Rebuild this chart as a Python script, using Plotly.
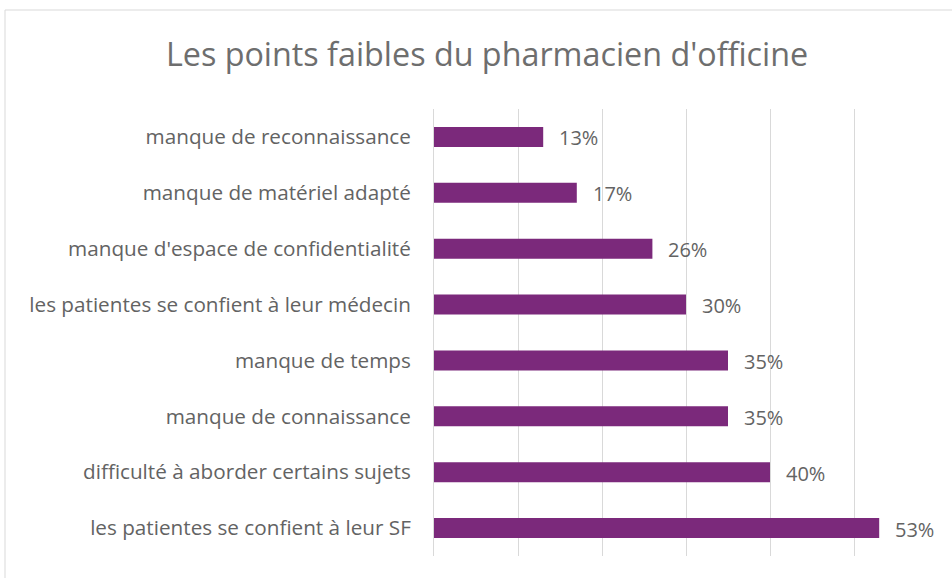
import plotly.graph_objects as go

categories = [
    "les patientes se confient à leur SF",
    "difficulté à aborder certains sujets",
    "manque de connaissance",
    "manque de temps",
    "les patientes se confient à leur médecin",
    "manque d'espace de confidentialité",
    "manque de matériel adapté",
    "manque de reconnaissance",
]
values = [0.53, 0.40, 0.35, 0.35, 0.30, 0.26, 0.17, 0.13]
labels = ["53%", "40%", "35%", "35%", "30%", "26%", "17%", "13%"]

W, H = 952, 578
ml, mr, mt, mb = 434, 14, 109, 22
pw, ph = W - ml - mr, H - mt - mb
FONT = "Open Sans"

fig = go.Figure(go.Bar(
    x=values, y=categories, orientation="h",
    marker=dict(color="#7B297B", line=dict(width=0)),
    width=0.36, hoverinfo="skip",
))

for v, c, t in zip(values, categories, labels):
    fig.add_annotation(x=v, y=c, text=t, showarrow=False, xanchor="left",
                       xshift=14, yshift=-1, font=dict(family=FONT, size=20, color="#636363"))

fig.add_shape(type="rect", xref="paper", yref="paper",
              x0=(5 - ml) / pw, x1=1.2, y0=-0.2, y1=(H - mb - 10) / ph,
              line=dict(color="#d9d9d9", width=1), fillcolor="rgba(0,0,0,0)", layer="below")

fig.update_layout(
    width=W, height=H,
    margin=dict(l=ml, r=mr, t=mt, b=mb),
    paper_bgcolor="white", plot_bgcolor="white",
    showlegend=False,
    title=dict(text="Les points faibles du pharmacien d'officine",
               x=(487) / W, xanchor="center", y=1 - 55 / H, yanchor="middle",
               font=dict(family=FONT, size=32.3, color="#6e6e6e")),
    xaxis=dict(range=[0, 0.6], dtick=0.1, showticklabels=False, showgrid=True,
               gridcolor="#d9d9d9", gridwidth=1, zeroline=False, showline=False, fixedrange=True),
    yaxis=dict(showgrid=False, showline=True, linecolor="#d9d9d9", linewidth=1,
               ticks="", ticklabelstandoff=18,
               tickfont=dict(family=FONT, size=20.7, color="#636363"), fixedrange=True),
)

fig.write_html("out.html")
